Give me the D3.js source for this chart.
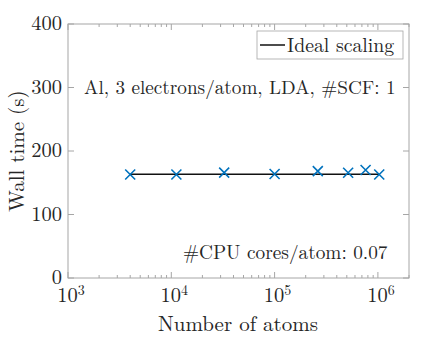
<!DOCTYPE html>
<html><head><meta charset="utf-8">
<script src="https://cdn.jsdelivr.net/npm/d3@7"></script>
<style>body{margin:0;background:#fff}svg{display:block}</style>
</head><body><svg id="c" width="432" height="343"></svg>
<script>
const atoms = [4000, 11200, 32500, 100000, 262000, 515000, 760000, 1030000];
const wallTime = [163, 163, 166, 163.7, 168.4, 165.7, 170, 163];
const idealTime = 163.2;
const xTickValues = [1e3, 1e4, 1e5, 1e6];
const xTickExponents = ["3", "4", "5", "6"];
const yTickValues = [0, 100, 200, 300, 400];
const legendLabel = "Ideal scaling";
const annotTop = "Al, 3 electrons/atom, LDA, #SCF: 1";
const annotBottom = "#CPU cores/atom: 0.07";
const xTitle = "Number of atoms";
const yTitle = "Wall time (s)";

const FONT = "Latin Modern Roman, Liberation Serif, serif";
const TXT = "#262626";
const svg = d3.select("#c");
const L = 68, R = 409, T = 24, B = 278;
const x = d3.scaleLog().domain([1e3, 2e6]).range([L, R]);
const y = d3.scaleLinear().domain([0, 400]).range([B, T]);
const axisCol = "#a6a6a6";

function txt(sel) { return sel.append("text").attr("font-family", FONT).attr("fill", TXT); }

// minor ticks
const minor = [];
for (let e = 3; e <= 6; e++) for (let m = 2; m <= 9; m++) { const v = m * Math.pow(10, e); if (v <= 2e6) minor.push(v); }
const g = svg.append("g");
minor.forEach(v => {
  g.append("line").attr("x1", x(v)).attr("x2", x(v)).attr("y1", B).attr("y2", B - 3).attr("stroke", axisCol);
  g.append("line").attr("x1", x(v)).attr("x2", x(v)).attr("y1", T).attr("y2", T + 3).attr("stroke", axisCol);
});
xTickValues.forEach(v => {
  g.append("line").attr("x1", x(v)).attr("x2", x(v)).attr("y1", B).attr("y2", B - 6).attr("stroke", axisCol);
  g.append("line").attr("x1", x(v)).attr("x2", x(v)).attr("y1", T).attr("y2", T + 6).attr("stroke", axisCol);
});
yTickValues.forEach(v => {
  g.append("line").attr("x1", L).attr("x2", L + 6).attr("y1", y(v)).attr("y2", y(v)).attr("stroke", axisCol);
  g.append("line").attr("x1", R).attr("x2", R - 6).attr("y1", y(v)).attr("y2", y(v)).attr("stroke", axisCol);
});
g.append("rect").attr("x", L).attr("y", T).attr("width", R - L).attr("height", B - T)
  .attr("fill", "none").attr("stroke", axisCol).attr("stroke-width", 1);

// tick labels
yTickValues.forEach(v => {
  txt(svg).attr("x", L - 6).attr("y", y(v) + 6).attr("text-anchor", "end")
    .attr("font-size", 20.5).text(v);
});
xTickValues.forEach((v, i) => {
  const t = txt(svg).attr("x", x(v) + 3).attr("y", B + 24).attr("text-anchor", "middle").attr("font-size", 20.5);
  t.append("tspan").text("10");
  t.append("tspan").attr("dy", -7.5).attr("font-size", 14).text(xTickExponents[i]);
});

// titles
txt(svg).attr("x", 238).attr("y", 331).attr("text-anchor", "middle").attr("font-size", 21).text(xTitle);
txt(svg).attr("transform", "translate(24," + ((T + B) / 2) + ") rotate(-90)")
  .attr("text-anchor", "middle").attr("font-size", 21).text(yTitle);

// ideal line
svg.append("line").attr("x1", x(atoms[0])).attr("x2", x(atoms[atoms.length - 1]))
  .attr("y1", y(idealTime)).attr("y2", y(idealTime)).attr("stroke", "#111").attr("stroke-width", 1.5);

// markers
const s = 5;
svg.append("g").selectAll("path").data(atoms).join("path")
  .attr("d", (d, i) => {
    const cx = x(d), cy = y(wallTime[i]);
    return `M${cx - s},${cy - s}L${cx + s},${cy + s}M${cx - s},${cy + s}L${cx + s},${cy - s}`;
  })
  .attr("stroke", "#0072BD").attr("stroke-width", 1.6).attr("fill", "none");

// annotations
txt(svg).attr("x", 84).attr("y", 94).attr("font-size", 19.2).text(annotTop);
txt(svg).attr("x", 183).attr("y", 259).attr("font-size", 19.3).text(annotBottom);

// legend
svg.append("rect").attr("x", 257).attr("y", 31).attr("width", 146).attr("height", 28)
  .attr("fill", "#fff").attr("stroke", "#a6a6a6").attr("stroke-width", 0.8);
svg.append("line").attr("x1", 260).attr("x2", 285).attr("y1", 45).attr("y2", 45).attr("stroke", "#111").attr("stroke-width", 1.5);
txt(svg).attr("x", 287).attr("y", 51.5).attr("font-size", 19.8).text(legendLabel);
</script></body></html>
